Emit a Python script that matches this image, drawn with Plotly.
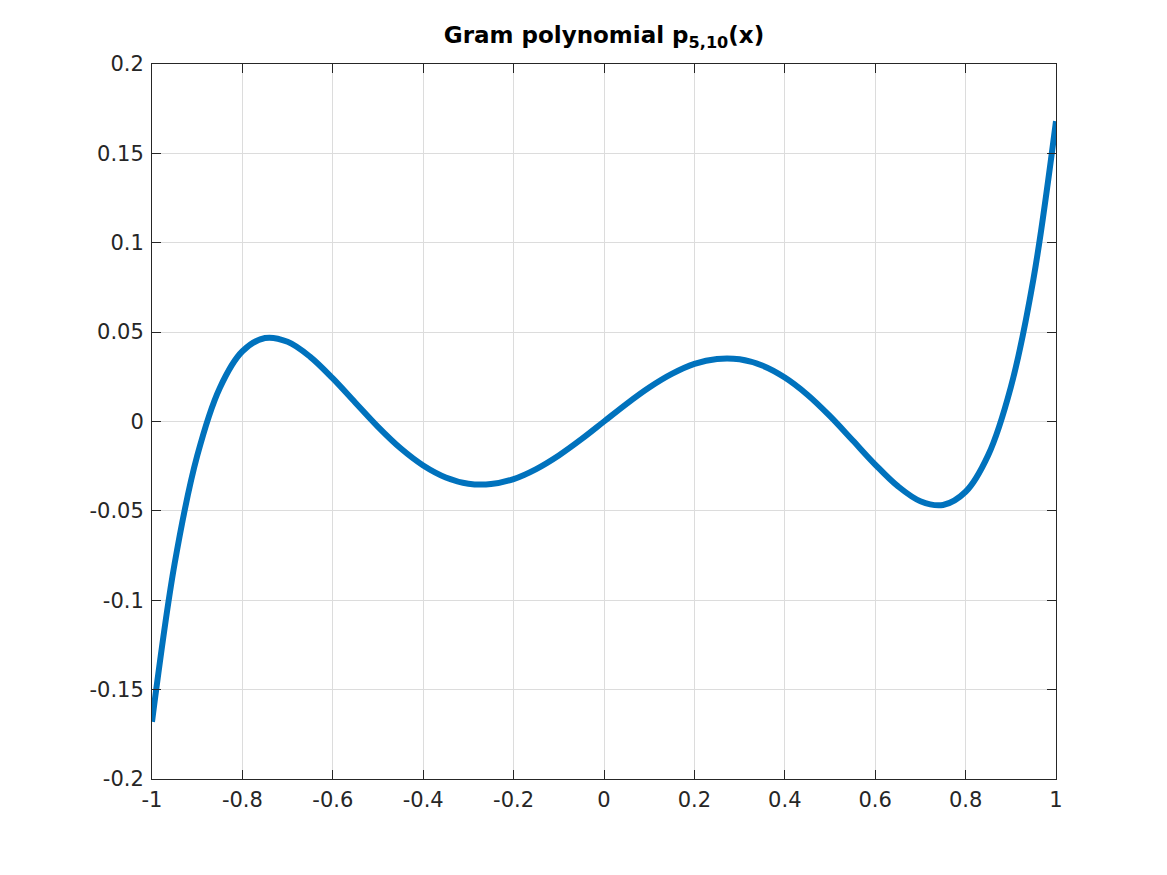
import plotly.graph_objects as go

x_vals = [-1.0, -0.95, -0.9, -0.85, -0.8, -0.75, -0.7, -0.65, -0.6, -0.55, -0.5,
          -0.45, -0.4, -0.35, -0.3, -0.25, -0.2, -0.15, -0.1, -0.05, 0.0,
          0.05, 0.1, 0.15, 0.2, 0.25, 0.3, 0.35, 0.4, 0.45, 0.5,
          0.55, 0.6, 0.65, 0.7, 0.75, 0.8, 0.85, 0.9, 0.95, 1.0]
y_vals = [-0.1680, -0.0796, -0.0192, 0.0188, 0.0393, 0.0467, 0.0446, 0.0362, 0.0241, 0.0105, -0.0030,
          -0.0150, -0.0246, -0.0313, -0.0348, -0.0350, -0.0322, -0.0266, -0.0190, -0.0099, 0.0,
          0.0099, 0.0190, 0.0266, 0.0322, 0.0350, 0.0348, 0.0313, 0.0246, 0.0150, 0.0030,
          -0.0105, -0.0241, -0.0362, -0.0446, -0.0467, -0.0393, -0.0188, 0.0192, 0.0796, 0.1680]

x_ticks = [-1, -0.8, -0.6, -0.4, -0.2, 0, 0.2, 0.4, 0.6, 0.8, 1]
x_ticktext = ["-1", "-0.8", "-0.6", "-0.4", "-0.2", "0", "0.2", "0.4", "0.6", "0.8", "1"]
y_ticks = [-0.2, -0.15, -0.1, -0.05, 0, 0.05, 0.1, 0.15, 0.2]
y_ticktext = ["-0.2", "-0.15", "-0.1", "-0.05", "0", "0.05", "0.1", "0.15", "0.2"]

title_text = "<b>Gram polynomial p<sub>5,10</sub>(x)</b>"

# The page body adds an 8px offset; margins compensate so the plot lands where the reference has it
OFF = 8

fig = go.Figure()
fig.add_trace(go.Scatter(
    x=x_vals, y=y_vals, mode="lines",
    line=dict(color="#0072BD", width=6, shape="spline", smoothing=1.0),
    showlegend=False,
))

axis_common = dict(
    showline=True, linecolor="#262626", linewidth=1, mirror="ticks",
    ticks="inside", ticklen=9, tickwidth=1, tickcolor="#262626",
    showgrid=True, gridcolor="#dcdcdc", gridwidth=1, zeroline=False,
    tickfont=dict(family="DejaVu Sans", size=21, color="#262626"),
)

fig.update_xaxes(range=[-1, 1], tickmode="array", tickvals=x_ticks, ticktext=x_ticktext,
                 ticklabelstandoff=2, **axis_common)
fig.update_yaxes(range=[-0.2, 0.2], tickmode="array", tickvals=y_ticks, ticktext=y_ticktext,
                 ticklabelstandoff=3, **axis_common)

fig.update_layout(
    width=1167, height=875,
    margin=dict(l=152 - OFF, r=111 + OFF, t=64 - OFF, b=96 + OFF),
    paper_bgcolor="white", plot_bgcolor="white",
    title=dict(text=title_text, x=(604 - OFF) / 1167, xanchor="center",
               y=1 - (35 - OFF) / 875, yanchor="middle", yref="container",
               font=dict(family="DejaVu Sans", size=23, color="black")),
)

fig.write_html("out.html")
